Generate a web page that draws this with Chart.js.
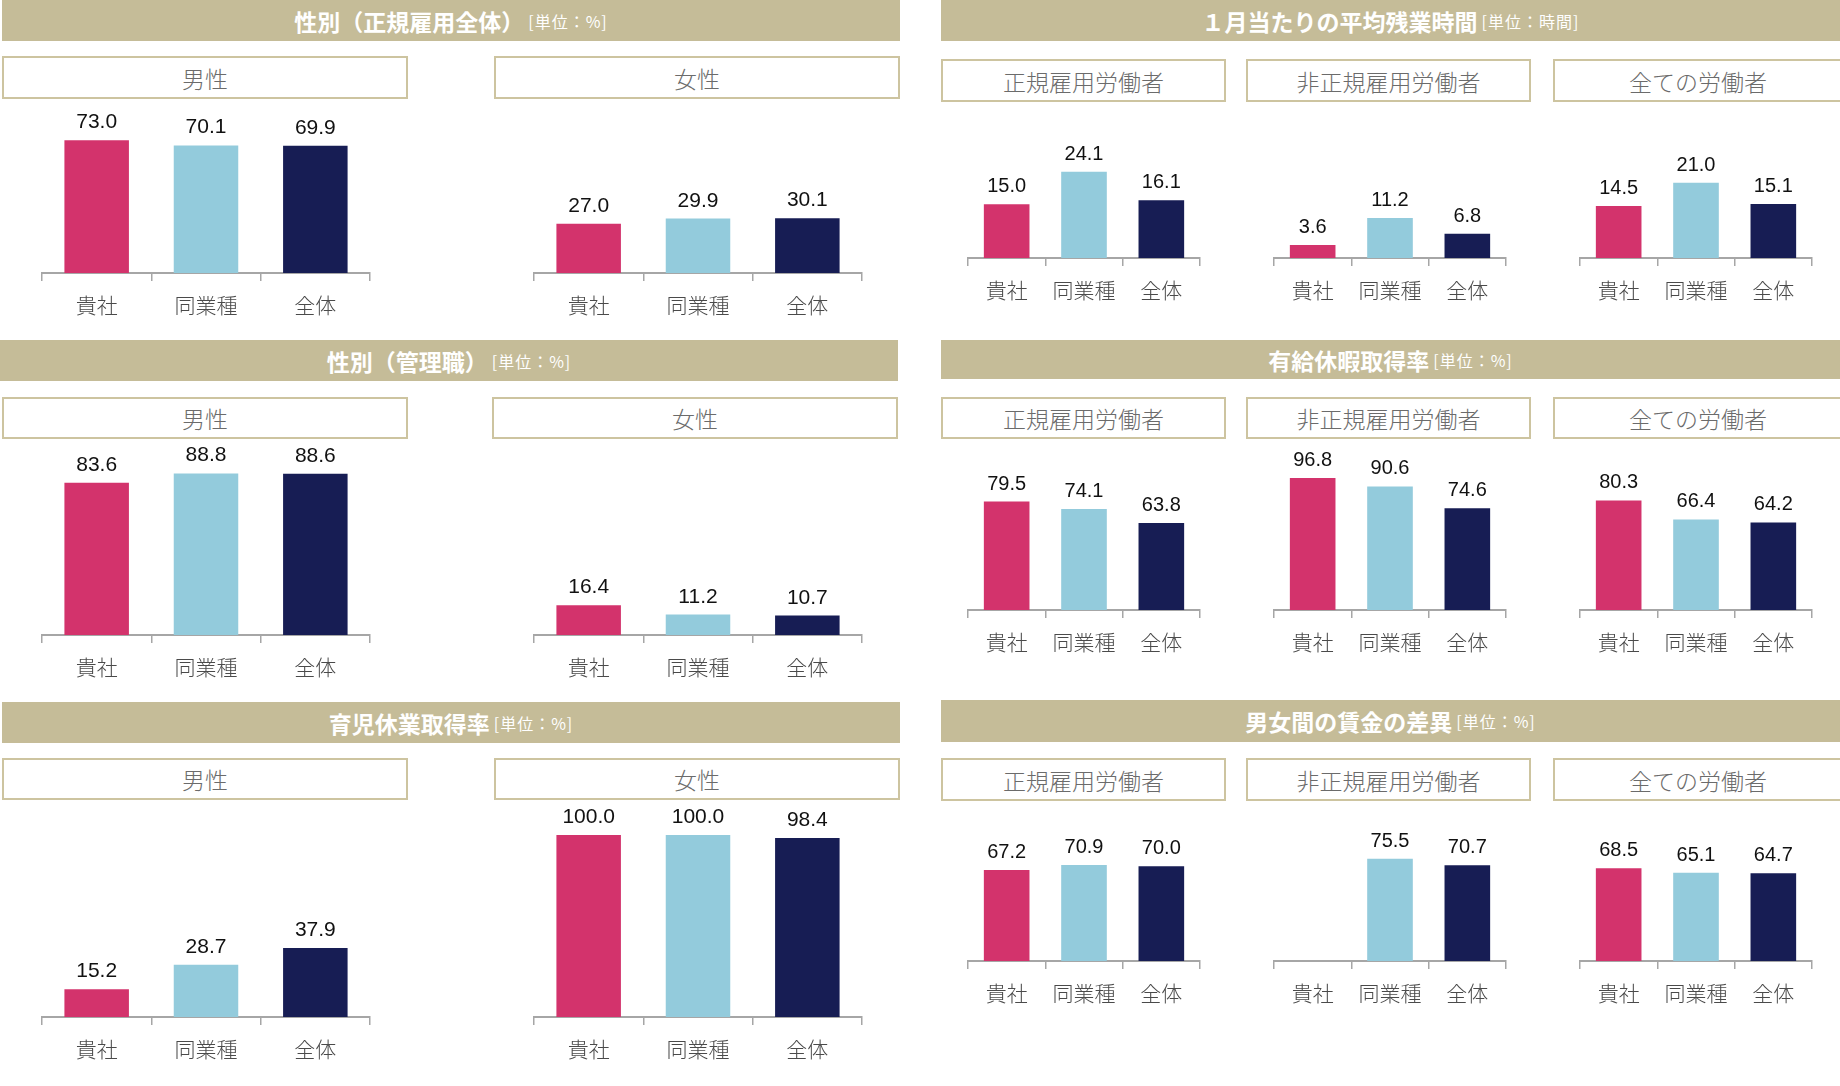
<!DOCTYPE html>
<html>
<head>
<meta charset="utf-8">
<script src="https://cdn.jsdelivr.net/npm/chart.js@4.4.1/dist/chart.umd.min.js"></script>
<style>
  body { margin: 0; background: #fff; }
  #page { position: relative; width: 1840px; height: 1086px; overflow: hidden; font-family: "Noto Sans CJK JP", sans-serif; }
  .band { position: absolute; background: #c5bc98; color: #fff; font-weight: bold; font-size: 23px;
          display: flex; align-items: center; justify-content: center; white-space: nowrap; }
  .band small { font-size: 16px; font-weight: normal; margin-left: 4px; letter-spacing: 1px; }
  .box { position: absolute; box-sizing: border-box; border: 2px solid #cdc4a0; background: #fff; color: #6b6b6b;
         font-size: 23px; font-weight: 300; display: flex; align-items: center; justify-content: center; }
  .chart { position: absolute; }
</style>
</head>
<body>
<div id="page"></div>
<script>
// categories and colours
const categories = ['貴社', '同業種', '全体'];
const barColors = ['#d3336c', '#93cbdc', '#171d54'];

// 性別（正規雇用全体）
const regularMale = [73.0, 70.1, 69.9];
const regularFemale = [27.0, 29.9, 30.1];
// 性別（管理職）
const managerMale = [83.6, 88.8, 88.6];
const managerFemale = [16.4, 11.2, 10.7];
// 育児休業取得率
const leaveMale = [15.2, 28.7, 37.9];
const leaveFemale = [100.0, 100.0, 98.4];
// 1月当たりの平均残業時間
const overtimeRegular = [15.0, 24.1, 16.1];
const overtimeNonRegular = [3.6, 11.2, 6.8];
const overtimeAll = [14.5, 21.0, 15.1];
// 有給休暇取得率
const paidLeaveRegular = [79.5, 74.1, 63.8];
const paidLeaveNonRegular = [96.8, 90.6, 74.6];
const paidLeaveAll = [80.3, 66.4, 64.2];
// 男女間の賃金の差異
const wageGapRegular = [67.2, 70.9, 70.0];
const wageGapNonRegular = [null, 75.5, 70.7];
const wageGapAll = [68.5, 65.1, 64.7];

const $page = document.getElementById('page');

function addBand(left, top, width, height, title, unit) {
    const el = document.createElement('div');
    el.className = 'band';
    Object.assign(el.style, { left: left + 'px', top: top + 'px', width: width + 'px', height: height + 'px' });
    el.textContent = title;
    const small = document.createElement('small');
    small.textContent = unit;
    el.appendChild(small);
    $page.appendChild(el);
}

function addBox(left, top, width, height, text) {
    const el = document.createElement('div');
    el.className = 'box';
    Object.assign(el.style, { left: left + 'px', top: top + 'px', width: width + 'px', height: height + 'px' });
    el.textContent = text;
    $page.appendChild(el);
}

const valueLabels = {
    id: 'valueLabels',
    afterDatasetsDraw(chart, args, opts) {
        const ctx = chart.ctx;
        const meta = chart.getDatasetMeta(0);
        const values = chart.data.datasets[0].data;
        ctx.save();
        ctx.font = opts.size + 'px "Liberation Sans", Arial, sans-serif';
        ctx.fillStyle = '#111';
        ctx.textAlign = 'center';
        ctx.textBaseline = 'alphabetic';
        meta.data.forEach((bar, i) => {
            if (values[i] == null) return;
            ctx.fillText(values[i].toFixed(1), bar.x, bar.y - 12);
        });
        ctx.restore();
    }
};

const AXIS_H = 54;

function addChart(axisLeft, axisRight, plotTop, baseline, pxPerUnit, values, labelSize) {
    const plotH = baseline - plotTop;
    const width = axisRight - axisLeft + 2;
    const height = plotH + AXIS_H;
    const wrap = document.createElement('div');
    wrap.className = 'chart';
    Object.assign(wrap.style, { left: (axisLeft - 1) + 'px', top: plotTop + 'px', width: width + 'px', height: height + 'px' });
    const canvas = document.createElement('canvas');
    canvas.width = width;
    canvas.height = height;
    wrap.appendChild(canvas);
    $page.appendChild(wrap);

    new Chart(canvas.getContext('2d'), {
        type: 'bar',
        data: {
            labels: categories,
            datasets: [{
                data: values,
                backgroundColor: barColors,
                borderWidth: 0,
                barPercentage: 0.59,
                categoryPercentage: 1
            }]
        },
        options: {
            responsive: false,
            animation: false,
            devicePixelRatio: 1,
            layout: { padding: { left: 1, right: 1, top: 0, bottom: 0 } },
            scales: {
                x: {
                    offset: true,
                    afterFit: s => { s.height = AXIS_H; },
                    border: { display: true, color: '#a6a6a6', width: 2 },
                    grid: { offset: true, drawOnChartArea: false, drawTicks: true, tickLength: 8, color: '#a6a6a6', lineWidth: 1.5 },
                    ticks: { color: '#4a4a4a', padding: 11, font: { family: '"Noto Sans CJK JP", sans-serif', size: 21, weight: '300' } }
                },
                y: { display: false, min: 0, max: plotH / pxPerUnit }
            },
            plugins: {
                legend: { display: false },
                tooltip: { enabled: false },
                valueLabels: { size: labelSize }
            }
        },
        plugins: [valueLabels]
    });
}

// left column
addBand(2, 0, 898, 41, '性別（正規雇用全体）', '[単位：%]');
addBox(2, 56, 406, 43, '男性');
addBox(494, 56, 406, 43, '女性');
addChart(42, 370, 104, 273, 1.82, regularMale, 21);
addChart(534, 862, 104, 273, 1.82, regularFemale, 21);

addBand(0, 340, 898, 41, '性別（管理職）', '[単位：%]');
addBox(2, 397, 406, 42, '男性');
addBox(492, 397, 406, 42, '女性');
addChart(42, 370, 444, 635, 1.82, managerMale, 21);
addChart(534, 862, 444, 635, 1.82, managerFemale, 21);

addBand(2, 702, 898, 41, '育児休業取得率', '[単位：%]');
addBox(2, 758, 406, 42, '男性');
addBox(494, 758, 406, 42, '女性');
addChart(42, 370, 805, 1017, 1.82, leaveMale, 21);
addChart(534, 862, 805, 1017, 1.82, leaveFemale, 21);

// right column
addBand(941, 0, 899, 41, '１月当たりの平均残業時間', '[単位：時間]');
addBox(941, 59, 285, 43, '正規雇用労働者');
addBox(1246, 59, 285, 43, '非正規雇用労働者');
addBox(1553, 59, 290, 43, '全ての労働者');
addChart(968, 1200, 107, 258, 3.58, overtimeRegular, 20);
addChart(1274, 1506, 107, 258, 3.58, overtimeNonRegular, 20);
addChart(1580, 1812, 107, 258, 3.58, overtimeAll, 20);

addBand(941, 340, 899, 39, '有給休暇取得率', '[単位：%]');
addBox(941, 397, 285, 42, '正規雇用労働者');
addBox(1246, 397, 285, 42, '非正規雇用労働者');
addBox(1553, 397, 290, 42, '全ての労働者');
addChart(968, 1200, 444, 610, 1.364, paidLeaveRegular, 20);
addChart(1274, 1506, 444, 610, 1.364, paidLeaveNonRegular, 20);
addChart(1580, 1812, 444, 610, 1.364, paidLeaveAll, 20);

addBand(941, 700, 899, 42, '男女間の賃金の差異', '[単位：%]');
addBox(941, 758, 285, 43, '正規雇用労働者');
addBox(1246, 758, 285, 43, '非正規雇用労働者');
addBox(1553, 758, 290, 43, '全ての労働者');
addChart(968, 1200, 806, 961, 1.355, wageGapRegular, 20);
addChart(1274, 1506, 806, 961, 1.355, wageGapNonRegular, 20);
addChart(1580, 1812, 806, 961, 1.355, wageGapAll, 20);
</script>
</body>
</html>
